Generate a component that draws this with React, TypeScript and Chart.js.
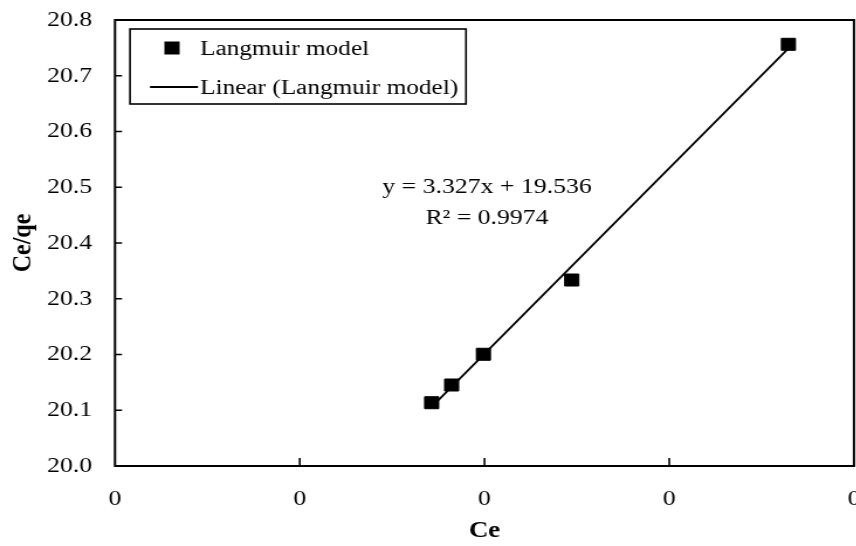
import React, { useEffect, useRef } from "react";
import { Chart, registerables } from "chart.js";

Chart.register(...registerables);

// ---- data ----
const ceValues = [0.1714, 0.1822, 0.1994, 0.2472, 0.3645];
const ceQeValues = [20.1135, 20.1453, 20.2004, 20.3336, 20.7564];
const trendCe = [0.1714, 0.3645];
const trendCeQe = [20.106, 20.749];
const pointLabel = "Langmuir model";
const trendLabel = "Linear (Langmuir model)";
const equationText = "y = 3.327x + 19.536";
const r2Text = "R² = 0.9974";
const xTitle = "Ce";
const yTitle = "Ce/qe";
const xMin = 0;
const xMax = 0.4;
const xStep = 0.1;
const yMin = 20.0;
const yMax = 20.8;
const yStep = 0.1;

// ---- layout ----
const S = 1.17; // horizontal stretch seen in the reference
const W = 745;
const H = 546;
const PLOT_L = 115 / S;
const PLOT_R = 854 / S;
const PLOT_T = 20;
const PLOT_B = 466;
const FONT = "'Liberation Serif', 'Times New Roman', serif";

const framePlugin = {
  id: "frameTicks",
  beforeDatasetsDraw(chart: any) {
    const { ctx, chartArea: a, scales } = chart;
    ctx.save();
    ctx.strokeStyle = "#000";
    ctx.lineWidth = 2;
    ctx.strokeRect(a.left, a.top, a.right - a.left, a.bottom - a.top);
    ctx.lineWidth = 1.6;
    ctx.beginPath();
    scales.x.ticks.forEach((t: any) => {
      const px = scales.x.getPixelForValue(t.value);
      if (px <= a.left + 1 || px >= a.right - 1) return;
      ctx.moveTo(px, a.bottom);
      ctx.lineTo(px, a.bottom - 8);
    });
    scales.y.ticks.forEach((t: any) => {
      const py = scales.y.getPixelForValue(t.value);
      if (py <= a.top + 1 || py >= a.bottom - 1) return;
      ctx.moveTo(a.left, py);
      ctx.lineTo(a.left + 6, py);
    });
    ctx.stroke();
    ctx.restore();
  },
  afterDraw(chart: any) {
    const { ctx } = chart;
    const ds = chart.data.datasets;
    ctx.save();
    // legend box
    const bx = 130 / S, by = 29, bw = (466 - 130) / S, bh = 75;
    ctx.fillStyle = "#fff";
    ctx.fillRect(bx, by, bw, bh);
    ctx.strokeStyle = "#000";
    ctx.lineWidth = 1.6;
    ctx.strokeRect(bx, by, bw, bh);
    // marker
    ctx.fillStyle = "#000";
    ctx.fillRect(147 - 6.5, 48 - 6.5, 13, 13);
    // line sample
    ctx.beginPath();
    ctx.lineWidth = 1.8;
    ctx.moveTo(150 / S, 87);
    ctx.lineTo(198 / S, 87);
    ctx.stroke();
    ctx.font = `21.6px ${FONT}`;
    ctx.textAlign = "left";
    ctx.textBaseline = "alphabetic";
    ctx.fillText(ds[0].label, 200 / S, 55);
    ctx.fillText(ds[1].label, 200 / S, 94);
    // equation
    ctx.font = `22px ${FONT}`;
    ctx.textAlign = "center";
    ctx.fillText(equationText, 487 / S, 193);
    ctx.fillText(r2Text, 487 / S, 224);
    ctx.restore();
  },
};

export default function App() {
  const ref = useRef<HTMLCanvasElement | null>(null);

  useEffect(() => {
    document.body.style.margin = "0";
    document.body.style.overflow = "hidden";
    document.documentElement.style.overflow = "hidden";
    if (!ref.current) return;
    const chart = new Chart(ref.current, {
      type: "scatter",
      data: {
        datasets: [
          {
            label: pointLabel,
            data: ceValues.map((x, i) => ({ x, y: ceQeValues[i] })),
            backgroundColor: "#000",
            borderColor: "#000",
            borderWidth: 1,
            pointStyle: "rect",
            pointRadius: 8.5,
            showLine: false,
            order: 1,
          },
          {
            label: trendLabel,
            type: "line",
            data: trendCe.map((x, i) => ({ x, y: trendCeQe[i] })),
            borderColor: "#000",
            borderWidth: 1.8,
            pointRadius: 0,
            fill: false,
            order: 2,
          } as any,
        ],
      },
      options: {
        animation: false,
        responsive: false,
        maintainAspectRatio: false,
        devicePixelRatio: 1,
        layout: {
          padding: { left: 0, right: W - PLOT_R, top: PLOT_T, bottom: 0 },
        },
        plugins: {
          legend: { display: false },
          tooltip: { enabled: false },
        },
        scales: {
          x: {
            type: "linear",
            position: "bottom",
            min: xMin,
            max: xMax,
            grid: { display: false, drawTicks: false },
            border: { display: false },
            ticks: {
              stepSize: xStep,
              autoSkip: false,
              maxRotation: 0,
              padding: 20,
              color: "#000",
              font: { family: FONT, size: 22 },
              callback: (v: any) => Number(v).toFixed(0),
            },
            title: {
              display: true,
              text: xTitle,
              color: "#000",
              font: { family: FONT, size: 23, weight: "bold" },
              padding: { top: 0, bottom: 1 },
            },
            afterFit: (s: any) => {
              s.height = H - PLOT_B;
              s.paddingLeft = 0;
              s.paddingRight = 0;
            },
          },
          y: {
            type: "linear",
            min: yMin,
            max: yMax,
            grid: { display: false, drawTicks: false },
            border: { display: false },
            ticks: {
              stepSize: yStep,
              padding: PLOT_L - 92 / S,
              color: "#000",
              font: { family: FONT, size: 22 },
              callback: (v: any) => Number(v).toFixed(1),
            },
            title: {
              display: true,
              text: yTitle,
              color: "#000",
              font: { family: FONT, size: 24, weight: "bold" },
              padding: { top: 5, bottom: 0 },
            },
            afterFit: (s: any) => {
              s.width = PLOT_L;
              s.paddingTop = 0;
              s.paddingBottom = 0;
            },
          },
        },
      },
      plugins: [framePlugin],
    });
    return () => chart.destroy();
  }, []);

  return (
    <div
      style={{
        width: W,
        height: H,
        transform: `scaleX(${S})`,
        transformOrigin: "0 0",
      }}
    >
      <canvas ref={ref} width={W} height={H} style={{ display: "block" }} />
    </div>
  );
}
